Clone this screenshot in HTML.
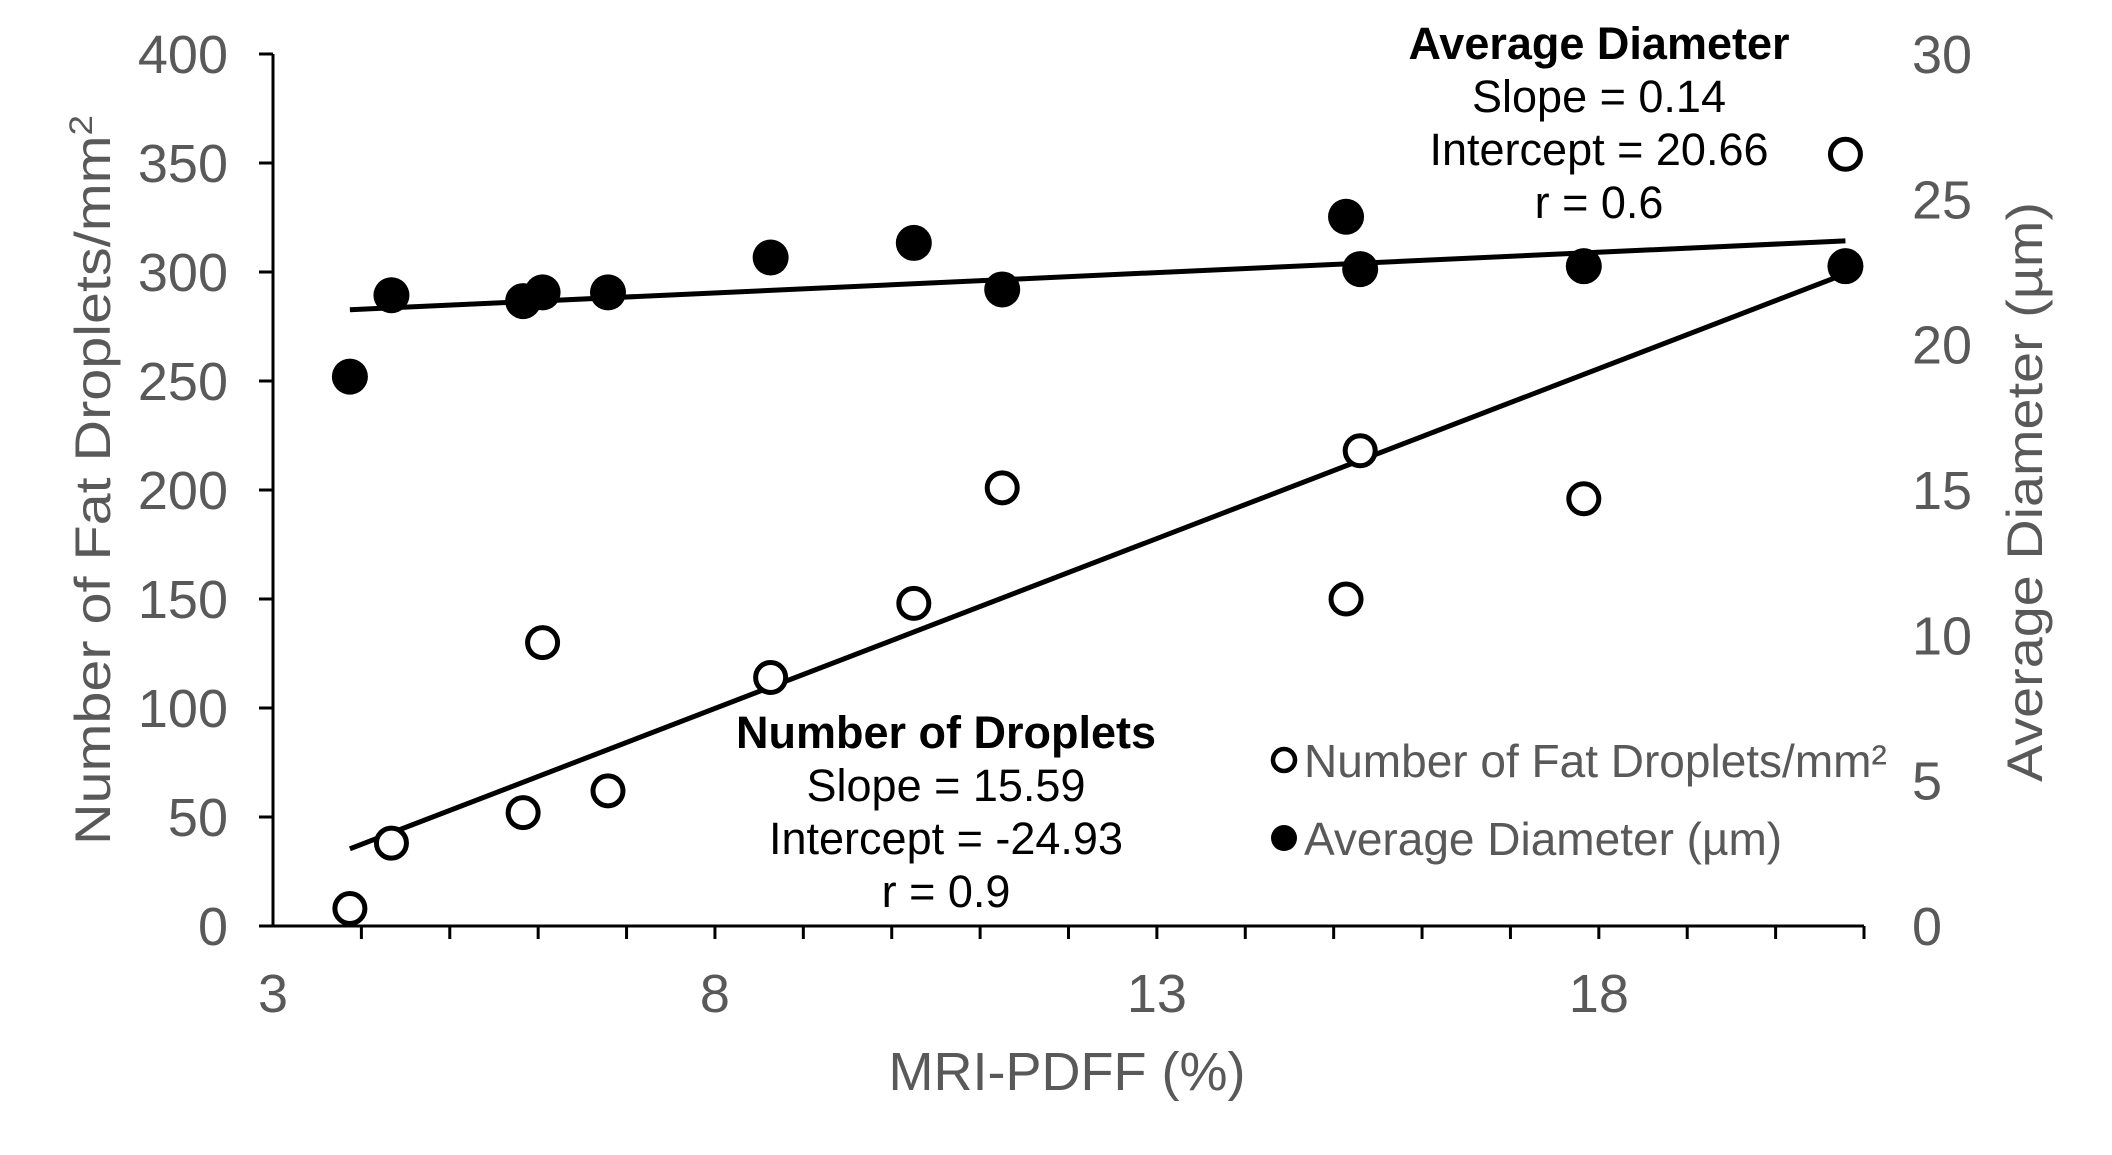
<!DOCTYPE html>
<html><head><meta charset="utf-8"><style>
html,body{margin:0;padding:0;background:#fff;}
svg{display:block;font-family:"Liberation Sans",Arial,sans-serif;}
</style></head><body>
<svg id="chart" width="2112" height="1155" viewBox="0 0 2112 1155" xmlns="http://www.w3.org/2000/svg">
<g id="axes"></g>
<g id="marks"></g>
<text transform="translate(110,480) rotate(-90)" text-anchor="middle" font-size="50" fill="#595959" textLength="730" lengthAdjust="spacingAndGlyphs">Number of Fat Droplets/mm<tspan font-size="32" dy="-18">2</tspan></text>
<text transform="translate(2042,492) rotate(-90)" text-anchor="middle" font-size="50" fill="#595959" textLength="580" lengthAdjust="spacingAndGlyphs">Average Diameter  (µm)</text>
<text x="1067" y="1090" text-anchor="middle" font-size="54" fill="#595959">MRI-PDFF (%)</text>
<g font-size="45" text-anchor="middle" fill="#000">
<text x="1599" y="59" font-weight="bold">Average Diameter</text>
<text x="1599" y="112">Slope = 0.14</text>
<text x="1599" y="165">Intercept = 20.66</text>
<text x="1599" y="218">r = 0.6</text>
</g>
<g font-size="45" text-anchor="middle" fill="#000">
<text x="946" y="748" font-weight="bold">Number of Droplets</text>
<text x="946" y="801">Slope = 15.59</text>
<text x="946" y="854">Intercept = -24.93</text>
<text x="946" y="907">r = 0.9</text>
</g>
<g>
<g>
<circle cx="1284" cy="760" r="11" fill="#fff" stroke="#000" stroke-width="4.5"/>
<text x="1304" y="777" font-size="46" fill="#595959">Number of Fat Droplets/mm²</text>
</g>
<g>
<circle cx="1284" cy="838" r="13" fill="#000"/>
<text x="1304" y="855" font-size="46" fill="#595959">Average Diameter (µm)</text>
</g>
</g>
</svg>
<script>
const xValues = [3.87, 4.34, 5.83, 6.05, 6.79, 8.63, 10.25, 11.25, 15.14, 15.30, 17.83, 20.79];
const dropletCounts = [8, 38, 52, 130, 62, 114, 148, 201, 150, 218, 196, 354];
const avgDiameters = [18.9, 21.7, 21.5, 21.8, 21.8, 23.0, 23.5, 21.9, 24.4, 22.6, 22.7, 22.7];
const fitDroplets = [15.59, -24.93];
const fitDiameter = [0.14, 20.66];
const xTicks = [3, 8, 13, 18];
const yLeftTicks = [0, 50, 100, 150, 200, 250, 300, 350, 400];
const yRightTicks = [0, 5, 10, 15, 20, 25, 30];

const X0 = 273, X1 = 1864, Y0 = 926, Y1 = 54;
const xMin = 3, xMax = 21;
const sx = v => X0 + (v - xMin) / (xMax - xMin) * (X1 - X0);
const syL = v => Y0 - v / 400 * (Y0 - Y1);
const syR = v => Y0 - v / 30 * (Y0 - Y1);
const NS = "http://www.w3.org/2000/svg";
function mk(tag, attrs, parent) { const e = document.createElementNS(NS, tag); for (const k in attrs) e.setAttribute(k, attrs[k]); parent.appendChild(e); return e; }
const axes = document.getElementById('axes');
const marks = document.getElementById('marks');

let e = mk('line', {x1: X0, y1: Y1, x2: X0, y2: Y0, stroke: '#000', 'stroke-width': 3}, axes);


e = mk('line', {x1: X0, y1: Y0, x2: X1, y2: Y0, stroke: '#000', 'stroke-width': 3}, axes);



yLeftTicks.forEach(t => {
  const y = syL(t);
  let tk = mk('line', {x1: X0 - 14, y1: y, x2: X0, y2: y, stroke: '#000', 'stroke-width': 3}, axes);
  
  
  let tx = mk('text', {x: 228, y: y + 19, 'text-anchor': 'end', 'font-size': 54, fill: '#595959'}, axes);
  tx.textContent = t;
  
  
});
yRightTicks.forEach(t => {
  let tx = mk('text', {x: 1912, y: syR(t) + 19, 'text-anchor': 'start', 'font-size': 54, fill: '#595959'}, axes);
  tx.textContent = t;
  
  
});
for (let v = xMin + 1; v <= xMax; v++) {
  let tk = mk('line', {x1: sx(v), y1: Y0, x2: sx(v), y2: Y0 + 13, stroke: '#000', 'stroke-width': 3}, axes);
  
  
}
xTicks.forEach(t => {
  let tx = mk('text', {x: sx(t), y: 1012, 'text-anchor': 'middle', 'font-size': 54, fill: '#595959'}, axes);
  tx.textContent = t;
  
  
});

const xa = xValues[0], xb = xValues[xValues.length - 1];
let l1 = mk('line', {x1: sx(xa), y1: syR(fitDiameter[0]*xa + fitDiameter[1]), x2: sx(xb), y2: syR(fitDiameter[0]*xb + fitDiameter[1]), stroke: '#000', 'stroke-width': 5}, marks);


let l2 = mk('line', {x1: sx(xa), y1: syL(fitDroplets[0]*xa + fitDroplets[1]), x2: sx(xb), y2: syL(fitDroplets[0]*xb + fitDroplets[1]), stroke: '#000', 'stroke-width': 5}, marks);



xValues.forEach((x, i) => {
  let c = mk('circle', {cx: sx(x), cy: syR(avgDiameters[i]), r: 18, fill: '#000'}, marks);
  
  
});
xValues.forEach((x, i) => {
  let c = mk('circle', {cx: sx(x), cy: syL(dropletCounts[i]), r: 15, fill: '#fff', stroke: '#000', 'stroke-width': 5}, marks);
  
  
});
</script>
</body></html>
